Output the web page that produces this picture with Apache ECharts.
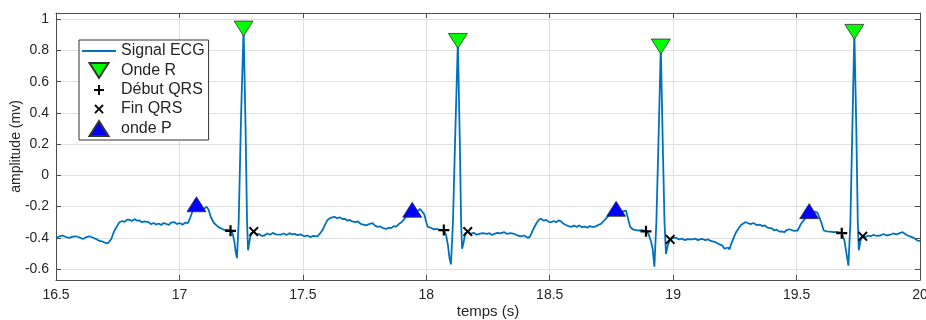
<!DOCTYPE html>
<html>
<head>
<meta charset="utf-8">
<script src="https://cdn.jsdelivr.net/npm/echarts@6/dist/echarts.min.js"></script>
<style>html,body{margin:0;padding:0;background:#fff}#c{width:926px;height:320px}</style>
</head>
<body>
<div id="c"></div>
<script>
// ECG signal (time in s, amplitude in mV)
var time = [
16.500,16.515,16.527,16.540,16.555,16.568,16.582,16.595,16.609,16.622,16.636,16.648,16.656,16.666,16.676,16.690,16.700,16.710,16.718,16.724,
16.730,16.737,16.747,16.757,16.768,16.778,16.788,16.798,16.808,16.818,16.828,16.838,16.848,16.858,16.865,16.875,16.885,16.895,16.906,16.916,
16.926,16.936,16.946,16.956,16.966,16.980,16.990,17.000,17.014,17.024,17.034,17.044,17.054,17.062,17.069,17.078,17.090,17.100,17.110,17.118,
17.128,17.140,17.150,17.162,17.172,17.182,17.195,17.207,17.215,17.222,17.228,17.233,17.240,17.250,17.260,17.268,17.274,17.278,17.284,17.290,
17.301,17.312,17.322,17.334,17.344,17.356,17.368,17.378,17.390,17.397,17.410,17.422,17.434,17.446,17.456,17.466,17.478,17.490,17.506,17.518,
17.530,17.542,17.559,17.568,17.580,17.590,17.600,17.612,17.620,17.628,17.638,17.649,17.660,17.670,17.680,17.689,17.700,17.712,17.722,17.734,
17.745,17.756,17.768,17.776,17.782,17.792,17.802,17.812,17.825,17.837,17.848,17.858,17.868,17.878,17.890,17.900,17.911,17.922,17.932,17.943,
17.955,17.965,17.975,17.983,17.992,18.000,18.006,18.018,18.030,18.042,18.053,18.062,18.071,18.080,18.088,18.094,18.100,18.108,18.118,18.128,
18.136,18.141,18.145,18.150,18.158,18.168,18.180,18.192,18.204,18.215,18.228,18.235,18.246,18.256,18.266,18.276,18.288,18.300,18.316,18.328,
18.340,18.357,18.370,18.384,18.396,18.411,18.420,18.425,18.435,18.445,18.455,18.465,18.476,18.486,18.496,18.506,18.516,18.526,18.536,18.546,
18.556,18.566,18.576,18.587,18.598,18.610,18.620,18.630,18.641,18.652,18.662,18.672,18.681,18.692,18.700,18.708,18.720,18.735,18.748,18.760,
18.769,18.780,18.792,18.800,18.809,18.818,18.826,18.836,18.850,18.863,18.876,18.890,18.900,18.910,18.917,18.924,18.932,18.942,18.950,18.958,
18.965,18.971,18.978,18.988,19.000,19.012,19.024,19.036,19.048,19.058,19.066,19.078,19.090,19.100,19.110,19.120,19.130,19.142,19.152,19.160,
19.172,19.185,19.200,19.208,19.215,19.222,19.228,19.235,19.245,19.255,19.265,19.275,19.282,19.292,19.302,19.314,19.325,19.338,19.350,19.362,
19.372,19.382,19.390,19.400,19.410,19.420,19.430,19.440,19.450,19.460,19.470,19.478,19.490,19.504,19.518,19.528,19.538,19.551,19.562,19.575,
19.585,19.592,19.600,19.610,19.622,19.635,19.651,19.665,19.683,19.694,19.702,19.710,19.718,19.726,19.734,19.742,19.748,19.752,19.760,19.768,
19.780,19.790,19.800,19.812,19.825,19.840,19.852,19.865,19.880,19.892,19.905,19.918,19.930,19.940,19.950,19.962,19.975,19.990,20.000
];
var amplitude = [
-0.400,-0.390,-0.385,-0.395,-0.400,-0.392,-0.390,-0.398,-0.407,-0.396,-0.390,-0.398,-0.400,-0.410,-0.420,-0.425,-0.432,-0.435,-0.428,-0.407,
-0.380,-0.353,-0.325,-0.300,-0.292,-0.298,-0.283,-0.285,-0.292,-0.280,-0.290,-0.289,-0.300,-0.295,-0.306,-0.300,-0.312,-0.305,-0.315,-0.308,
-0.318,-0.305,-0.310,-0.318,-0.303,-0.300,-0.312,-0.305,-0.315,-0.302,-0.306,-0.270,-0.225,-0.200,-0.185,-0.205,-0.225,-0.215,-0.200,-0.220,
-0.270,-0.305,-0.320,-0.335,-0.342,-0.350,-0.348,-0.355,-0.370,-0.420,-0.490,-0.530,-0.300,0.400,0.940,0.300,-0.300,-0.480,-0.420,-0.370,
-0.360,-0.380,-0.375,-0.388,-0.385,-0.372,-0.380,-0.368,-0.378,-0.370,-0.380,-0.372,-0.382,-0.370,-0.378,-0.375,-0.382,-0.378,-0.390,-0.385,
-0.395,-0.388,-0.390,-0.375,-0.350,-0.315,-0.285,-0.272,-0.278,-0.265,-0.275,-0.268,-0.280,-0.278,-0.290,-0.285,-0.295,-0.300,-0.295,-0.310,
-0.315,-0.320,-0.312,-0.300,-0.306,-0.322,-0.330,-0.326,-0.338,-0.343,-0.335,-0.338,-0.325,-0.328,-0.310,-0.300,-0.280,-0.255,-0.235,-0.220,
-0.225,-0.228,-0.215,-0.204,-0.250,-0.300,-0.330,-0.335,-0.345,-0.342,-0.350,-0.352,-0.350,-0.380,-0.450,-0.530,-0.570,-0.300,0.300,0.861,
0.200,-0.300,-0.470,-0.440,-0.370,-0.360,-0.375,-0.368,-0.380,-0.375,-0.370,-0.364,-0.375,-0.370,-0.382,-0.375,-0.368,-0.372,-0.364,-0.375,
-0.370,-0.375,-0.385,-0.390,-0.385,-0.400,-0.392,-0.375,-0.340,-0.310,-0.285,-0.278,-0.290,-0.285,-0.298,-0.300,-0.292,-0.300,-0.288,-0.294,
-0.310,-0.318,-0.325,-0.330,-0.322,-0.330,-0.320,-0.332,-0.328,-0.335,-0.325,-0.330,-0.330,-0.322,-0.315,-0.310,-0.290,-0.264,-0.240,-0.222,
-0.214,-0.225,-0.232,-0.228,-0.225,-0.280,-0.330,-0.345,-0.350,-0.353,-0.350,-0.358,-0.375,-0.420,-0.470,-0.585,-0.300,0.300,0.825,0.200,
-0.300,-0.503,-0.450,-0.410,-0.400,-0.400,-0.410,-0.405,-0.415,-0.408,-0.418,-0.410,-0.405,-0.415,-0.408,-0.407,-0.415,-0.410,-0.420,-0.418,
-0.428,-0.440,-0.450,-0.470,-0.478,-0.462,-0.475,-0.440,-0.400,-0.364,-0.340,-0.318,-0.310,-0.300,-0.305,-0.312,-0.305,-0.318,-0.315,-0.325,
-0.320,-0.335,-0.330,-0.340,-0.353,-0.348,-0.360,-0.358,-0.364,-0.350,-0.345,-0.343,-0.355,-0.353,-0.310,-0.290,-0.268,-0.229,-0.238,-0.232,
-0.240,-0.236,-0.300,-0.353,-0.358,-0.360,-0.364,-0.362,-0.370,-0.418,-0.500,-0.578,-0.300,0.300,0.919,0.300,-0.300,-0.480,-0.410,-0.390,
-0.395,-0.385,-0.390,-0.380,-0.388,-0.385,-0.375,-0.385,-0.380,-0.372,-0.378,-0.370,-0.364,-0.375,-0.385,-0.392,-0.400,-0.418,-0.420
];
// Detected points
var rTime = [17.260, 18.128, 18.950, 19.734];
var rAmp  = [0.940, 0.861, 0.825, 0.919];
var qrsStartTime = [17.207, 18.071, 18.890, 19.683];
var qrsStartAmp  = [-0.355, -0.350, -0.358, -0.370];
var qrsEndTime = [17.301, 18.168, 18.988, 19.768];
var qrsEndAmp  = [-0.360, -0.360, -0.410, -0.390];
var pTime = [17.069, 17.943, 18.769, 19.551];
var pAmp  = [-0.185, -0.220, -0.214, -0.229];
// Axis ticks
var xTicks = [16.5, 17, 17.5, 18, 18.5, 19, 19.5, 20];
var yTicks = [-0.6, -0.4, -0.2, 0, 0.2, 0.4, 0.6, 0.8, 1];
var seriesNames = ['Signal ECG', 'Onde R', 'Début QRS', 'Fin QRS', 'onde P'];

function zip(a, b) { return a.map(function (v, i) { return [v, b[i]]; }); }

var FONT = 'Liberation Sans, Arial, sans-serif';
var PLUS = 'path://M4,0H6V4H10V6H6V10H4V6H0V4H4Z';
var CROSS = 'path://M0,1.4L1.4,0L5,3.6L8.6,0L10,1.4L6.4,5L10,8.6L8.6,10L5,6.4L1.4,10L0,8.6L3.6,5Z';
// legend versions padded with move-to points so the glyph is drawn smaller inside the icon box
var PLUS_LEG = 'path://M-2.5,-2.5M12.5,12.5M4,0H6V4H10V6H6V10H4V6H0V4H4Z';
var CROSS_LEG = 'path://M-3,-3M13,13M0,1.4L1.4,0L5,3.6L8.6,0L10,1.4L6.4,5L10,8.6L8.6,10L5,6.4L1.4,10L0,8.6L3.6,5Z';
var TRI_DOWN = 'path://M0,0L19,0L9.5,15Z';
var TRI_UP = 'path://M9.5,0L19,15L0,15Z';
var LINE_ICON = 'path://M0,0H34V2H0Z';
var axisCol = '#4d4d4d';

var chart = echarts.init(document.getElementById('c'), null, {renderer: 'canvas'});
var baseX = {
  type: 'value', min: 16.5, max: 20, interval: 0.5,
  axisLine: {show: true, onZero: false, lineStyle: {color: axisCol, width: 1}},
  axisTick: {show: true, inside: true, length: 5, lineStyle: {color: axisCol}, customValues: xTicks},
  axisLabel: {customValues: xTicks, color: '#262626', fontFamily: FONT, fontSize: 14, margin: 8},
  splitLine: {show: true, lineStyle: {color: '#e0e0e0', width: 1}}
};
var baseY = {
  type: 'value', min: -0.67, max: 1.04,
  axisLine: {show: true, onZero: false, lineStyle: {color: axisCol, width: 1}},
  axisTick: {show: true, inside: true, length: 5, lineStyle: {color: axisCol}, customValues: yTicks},
  axisLabel: {customValues: yTicks, color: '#262626', fontFamily: FONT, fontSize: 14, margin: 7},
  splitLine: {show: true, lineStyle: {color: '#e0e0e0', width: 1}}
};
var option = {
  animation: false,
  backgroundColor: '#ffffff',
  grid: {left: 56, right: 6, top: 13, bottom: 40, containLabel: false, outerBoundsMode: 'none'},
  xAxis: [
    Object.assign({}, baseX, {position: 'bottom', name: 'temps (s)', nameLocation: 'middle', nameGap: 24,
      nameMoveOverlap: false,
      nameTextStyle: {color: '#262626', fontFamily: FONT, fontSize: 15}}),
    Object.assign({}, baseX, {position: 'top', axisLabel: {show: false}, splitLine: {show: false}})
  ],
  yAxis: [
    Object.assign({}, baseY, {position: 'left', name: 'amplitude (mv)', nameLocation: 'middle', nameGap: 33, nameRotate: 90,
      nameMoveOverlap: false,
      nameTextStyle: {color: '#262626', fontFamily: FONT, fontSize: 14}}),
    Object.assign({}, baseY, {position: 'right', axisLabel: {show: false}, splitLine: {show: false}})
  ],
  legend: {
    orient: 'vertical', left: 79, top: 40,
    data: [
      {name: seriesNames[0], icon: LINE_ICON},
      {name: seriesNames[1], icon: TRI_DOWN},
      {name: seriesNames[2], icon: PLUS_LEG},
      {name: seriesNames[3], icon: CROSS_LEG},
      {name: seriesNames[4], icon: TRI_UP}
    ],
    symbolKeepAspect: true,
    backgroundColor: '#ffffff', borderColor: '#333333', borderWidth: 1, borderRadius: 0,
    padding: [3, 4, 3, 3], itemGap: 3, itemWidth: 34, itemHeight: 15,
    textStyle: {color: '#262626', fontFamily: FONT, fontSize: 16}
  },
  series: [
    {name: seriesNames[0], type: 'line', data: zip(time, amplitude), showSymbol: false, symbol: 'none',
      lineStyle: {color: '#0072BD', width: 1.8}, itemStyle: {color: '#0072BD'}, z: 2},
    {name: seriesNames[1], type: 'scatter', data: zip(rTime, rAmp), symbol: TRI_DOWN,
      symbolSize: [19, 15], itemStyle: {color: '#00ff00', borderColor: '#333333', borderWidth: 0.8, opacity: 1}, z: 5},
    {name: seriesNames[2], type: 'scatter', data: zip(qrsStartTime, qrsStartAmp), symbol: PLUS,
      symbolSize: 11, itemStyle: {color: '#000000', opacity: 1}, z: 5},
    {name: seriesNames[3], type: 'scatter', data: zip(qrsEndTime, qrsEndAmp), symbol: CROSS,
      symbolSize: 10, itemStyle: {color: '#000000', opacity: 1}, z: 5},
    {name: seriesNames[4], type: 'scatter', data: zip(pTime, pAmp), symbol: TRI_UP,
      symbolSize: [19, 15], itemStyle: {color: '#0000ff', borderColor: '#333333', borderWidth: 0.8, opacity: 1}, z: 5}
  ]
};
chart.setOption(option);
</script>
</body>
</html>
